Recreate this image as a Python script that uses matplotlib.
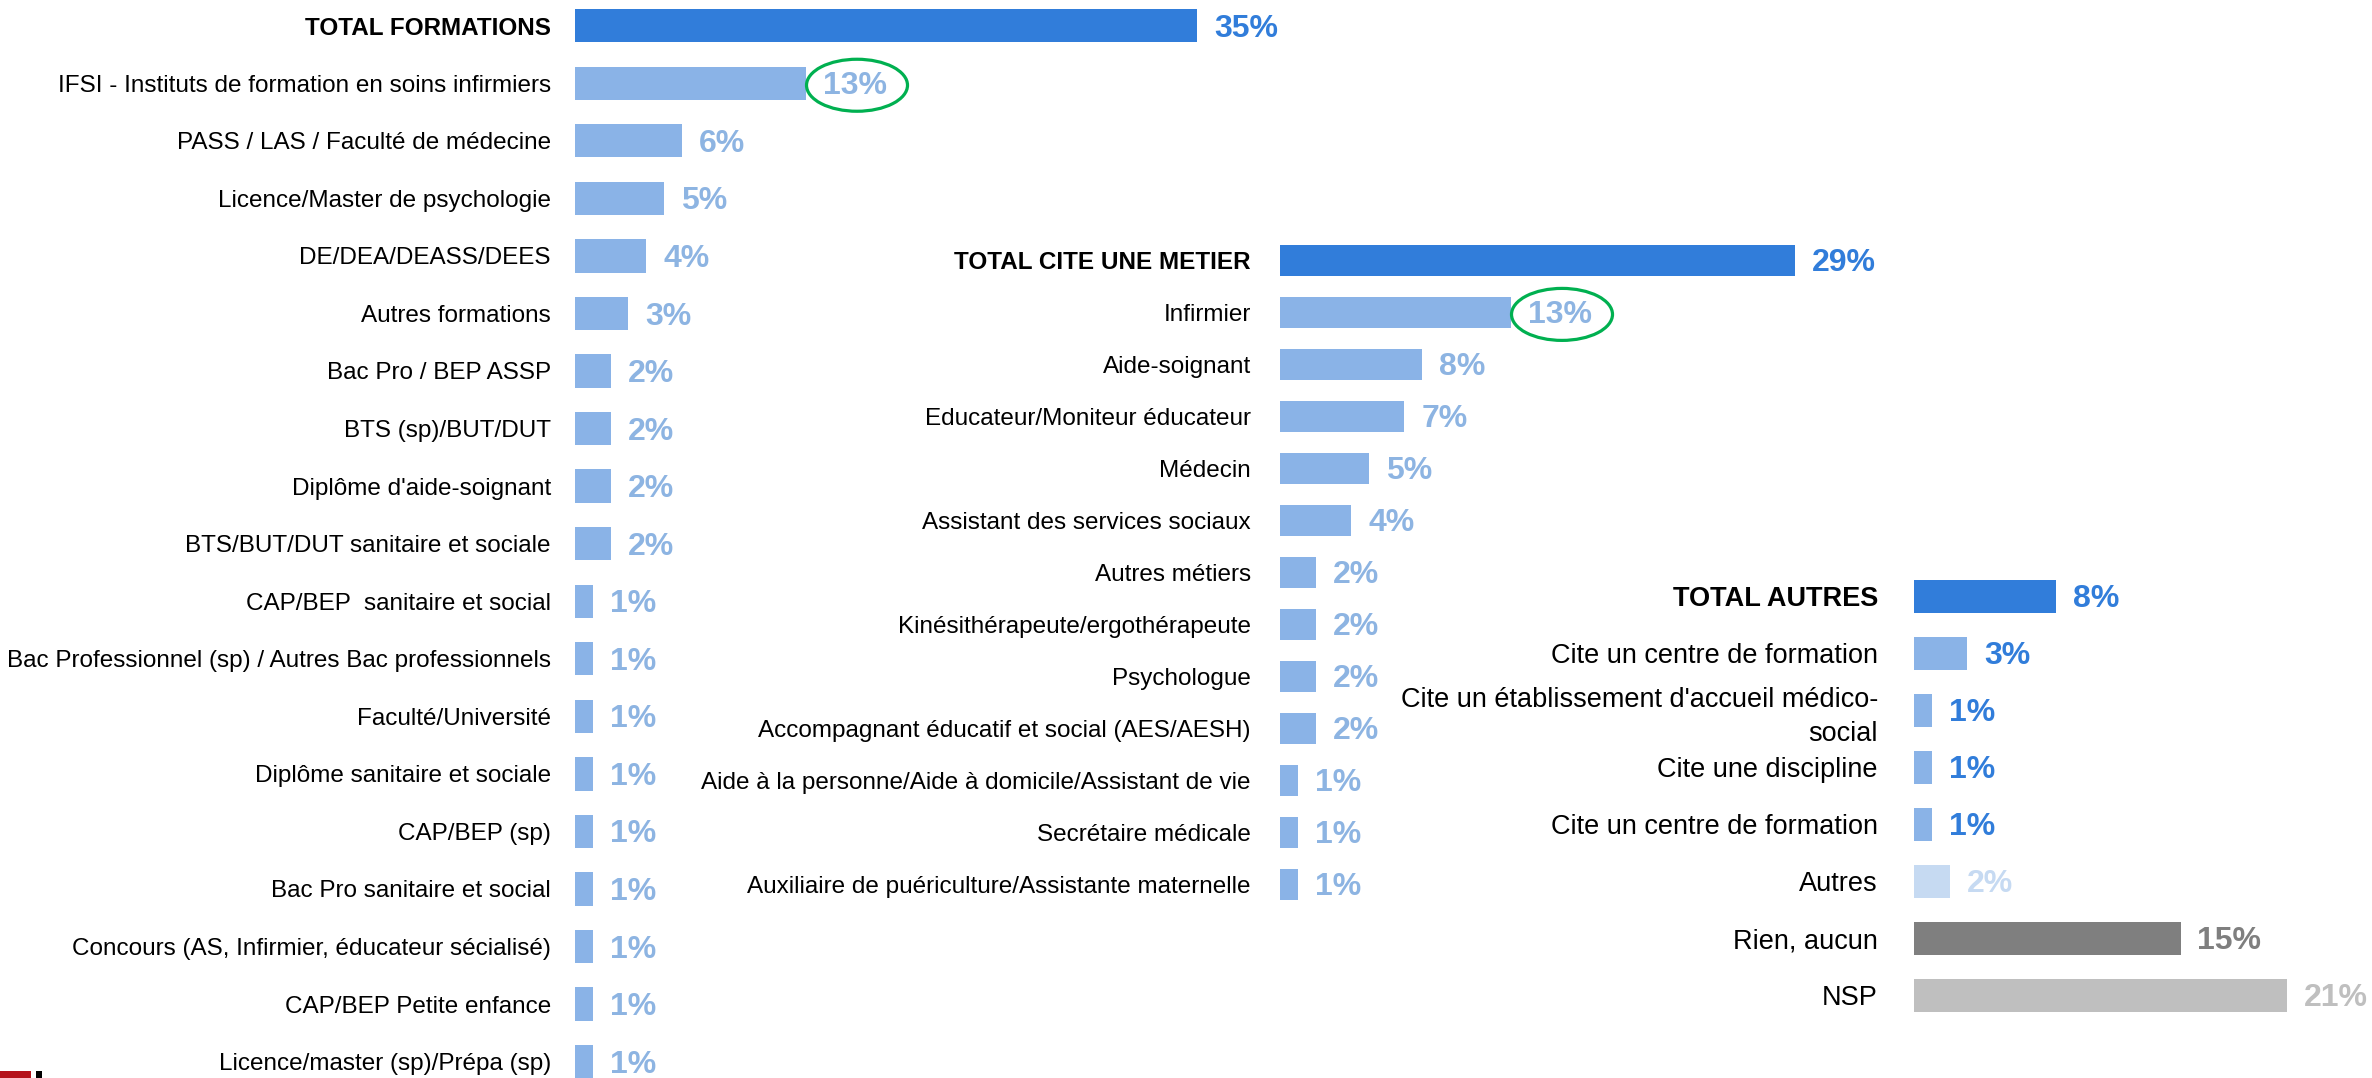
import matplotlib.pyplot as plt
from matplotlib.patches import Ellipse, Rectangle

# data
formations = ["TOTAL FORMATIONS",
              "IFSI - Instituts de formation en soins infirmiers",
              "PASS / LAS / Faculté de médecine",
              "Licence/Master de psychologie",
              "DE/DEA/DEASS/DEES",
              "Autres formations",
              "Bac Pro / BEP ASSP",
              "BTS (sp)/BUT/DUT",
              "Diplôme d'aide-soignant",
              "BTS/BUT/DUT sanitaire et sociale",
              "CAP/BEP  sanitaire et social",
              "Bac Professionnel (sp) / Autres Bac professionnels",
              "Faculté/Université",
              "Diplôme sanitaire et sociale",
              "CAP/BEP (sp)",
              "Bac Pro sanitaire et social",
              "Concours (AS, Infirmier, éducateur sécialisé)",
              "CAP/BEP Petite enfance",
              "Licence/master (sp)/Prépa (sp)"]
formations_pct = [35, 13, 6, 5, 4, 3, 2, 2, 2, 2, 1, 1, 1, 1, 1, 1, 1, 1, 1]

metiers = ["TOTAL CITE UNE METIER",
           "Infirmier",
           "Aide-soignant",
           "Educateur/Moniteur éducateur",
           "Médecin",
           "Assistant des services sociaux",
           "Autres métiers",
           "Kinésithérapeute/ergothérapeute",
           "Psychologue",
           "Accompagnant éducatif et social (AES/AESH)",
           "Aide à la personne/Aide à domicile/Assistant de vie",
           "Secrétaire médicale",
           "Auxiliaire de puériculture/Assistante maternelle"]
metiers_pct = [29, 13, 8, 7, 5, 4, 2, 2, 2, 2, 1, 1, 1]

autres = ["TOTAL AUTRES",
          "Cite un centre de formation",
          "Cite un établissement d'accueil médico-\nsocial",
          "Cite une discipline",
          "Cite un centre de formation",
          "Autres",
          "Rien, aucun",
          "NSP"]
autres_pct = [8, 3, 1, 1, 1, 2, 15, 21]

DARK = '#317DDA'
LIGHT = '#8AB3E7'
LIGHT_TXT = '#8DB4E2'
PALE = '#C6DAF2'
GRAY = '#7F7F7F'
LGRAY = '#BFBFBF'
GREEN = '#00B050'

FONT = ['Liberation Sans', 'DejaVu Sans']

W, H = 2372, 1078
PX = 17.77  # pixels per percent, same for all three blocks

fig = plt.figure(figsize=(W / 100, H / 100), dpi=100)


def panel(x0, width, row0, step, labels, values, bar_cols, val_cols,
          lab_size, val_size, pad, bar_h):
    ax = fig.add_axes([x0 / W, 0, width / W, 1])
    ax.set_facecolor('none')
    y = list(range(len(values)))
    ax.barh(y, values, height=bar_h, color=bar_cols)
    ax.set_xlim(0, width / PX)
    ax.set_ylim((H - row0) / step, -row0 / step)
    ax.set_yticks(y)
    ax.set_yticklabels(labels, fontsize=lab_size, family=FONT, color='black')
    ax.get_yticklabels()[0].set_fontweight('bold')
    ax.tick_params(axis='y', length=0, pad=pad)
    ax.set_xticks([])
    for s in ax.spines.values():
        s.set_visible(False)
    for i, v in enumerate(values):
        ax.annotate(f'{v}%', (v, i), xytext=(12.2, -2.2), textcoords='offset points',
                    va='center', ha='left', fontsize=val_size, fontweight='bold',
                    family=FONT, color=val_cols[i], annotation_clip=False)
    return ax


n1 = len(formations_pct)
ax1 = panel(575, 700, 25.7, 57.55, formations, formations_pct,
            [DARK] + [LIGHT] * (n1 - 1), [DARK] + [LIGHT_TXT] * (n1 - 1),
            17.5, 23, 17.3, 0.58)

n2 = len(metiers_pct)
ax2 = panel(1280, 560, 260.4, 52.0, metiers, metiers_pct,
            [DARK] + [LIGHT] * (n2 - 1), [DARK] + [LIGHT_TXT] * (n2 - 1),
            17.5, 23, 21, 0.6)

ax3 = panel(1914, 440, 596.2, 57.0, autres, autres_pct,
            [DARK, LIGHT, LIGHT, LIGHT, LIGHT, PALE, GRAY, LGRAY],
            [DARK, DARK, DARK, DARK, DARK, PALE, GRAY, LGRAY],
            19.5, 23, 26, 0.58)
ax3.get_yticklabels()[2].set_linespacing(1.4)

# green circles around the two 13%
ax1.add_patch(Ellipse((formations_pct[1] + 51 / PX, 1 + 2 / 57.55), 101 / PX, 52 / 57.55,
                      fill=False, ec=GREEN, lw=2.3, clip_on=False))
ax2.add_patch(Ellipse((metiers_pct[1] + 51 / PX, 1 + 2 / 52.0), 101 / PX, 52 / 52.0,
                      fill=False, ec=GREEN, lw=2.3, clip_on=False))

# bit of logo in the corner
fig.add_artist(Rectangle((0, 0), 31 / W, 7 / H, transform=fig.transFigure,
                         color='#B5121B', lw=0))
fig.add_artist(Rectangle((36 / W, 0), 6 / W, 7 / H, transform=fig.transFigure,
                         color='black', lw=0))

fig.savefig('out.png', dpi=100)
